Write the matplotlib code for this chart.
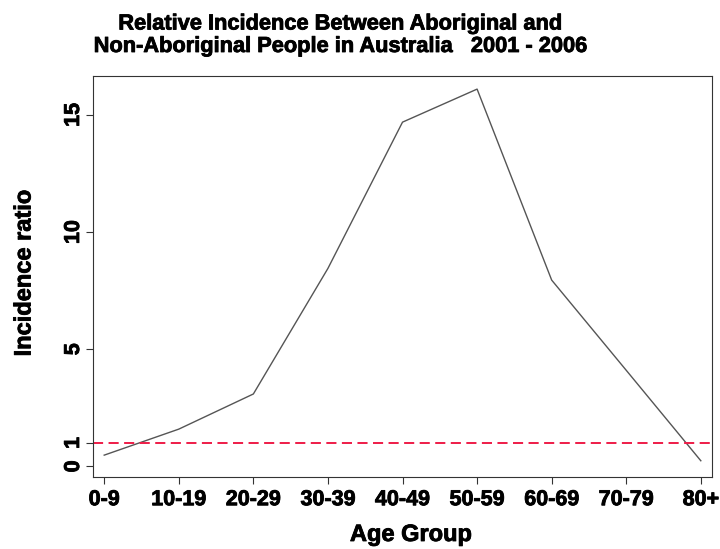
import numpy as np
import matplotlib
matplotlib.use("Agg")
import matplotlib.pyplot as plt
import matplotlib.patheffects as pe

# values
age_groups = ["0-9", "10-19", "20-29", "30-39", "40-49", "50-59", "60-69", "70-79", "80+"]
incidence_ratio = [0.48, 1.59, 3.09, 8.45, 14.69, 16.1, 7.95, 4.1, 0.24]
ref_level = 1
y_ticks = [0, 1, 5, 10, 15]

plt.rcParams['font.family'] = ['Liberation Sans', 'DejaVu Sans']
plt.rcParams['font.weight'] = 'bold'

# the original text is a bit heavier than Liberation Sans Bold
heavy = [pe.withStroke(linewidth=0.6, foreground='black')]

W, H = 720, 549
fig = plt.figure(figsize=(W / 100, H / 100), dpi=100)
ax = fig.add_axes([0.1292, 0.1317, 0.8597, 0.7299])

x = np.arange(len(age_groups))
ax.plot(x, incidence_ratio, color='#555555', linewidth=1.0)
ax.axhline(ref_level, color='#EE1C47', linewidth=1.4, linestyle=(0, (5.2, 2.8)))

ax.set_xlim(-0.15, 8.15)
ax.set_ylim(-0.44, 16.66)
ax.set_xticks(x)
ax.set_xticklabels(age_groups, fontsize=15.5, fontweight='bold', path_effects=heavy)
ax.set_yticks(y_ticks)
ax.set_yticklabels([str(v) for v in y_ticks], fontsize=15.5, fontweight='bold',
                   rotation=90, va='center', path_effects=heavy)
ax.tick_params(axis='both', length=5, width=0.8, color='#333333')
ax.tick_params(axis='x', pad=4)
ax.tick_params(axis='y', pad=1.5)
for s in ax.spines.values():
    s.set_linewidth(0.8)
    s.set_color('#333333')

# axis labels and title placed like the original (R style)
fig.text(411 / W, 1 - 541 / H, 'Age Group', fontsize=17, fontweight='bold',
         ha='center', va='baseline', path_effects=heavy)
fig.text(24 / W, 1 - 273 / H, 'Incidence ratio', fontsize=17, fontweight='bold',
         ha='center', va='center', rotation=90, path_effects=heavy)
fig.text(340 / W, 1 - 29.5 / H, 'Relative Incidence Between Aboriginal and',
         fontsize=15.7, fontweight='bold', ha='center', va='baseline', path_effects=heavy)
fig.text(340 / W, 1 - 52 / H, 'Non-Aboriginal People in Australia   2001 - 2006',
         fontsize=15.7, fontweight='bold', ha='center', va='baseline', path_effects=heavy)

fig.savefig('out.png', dpi=100)
